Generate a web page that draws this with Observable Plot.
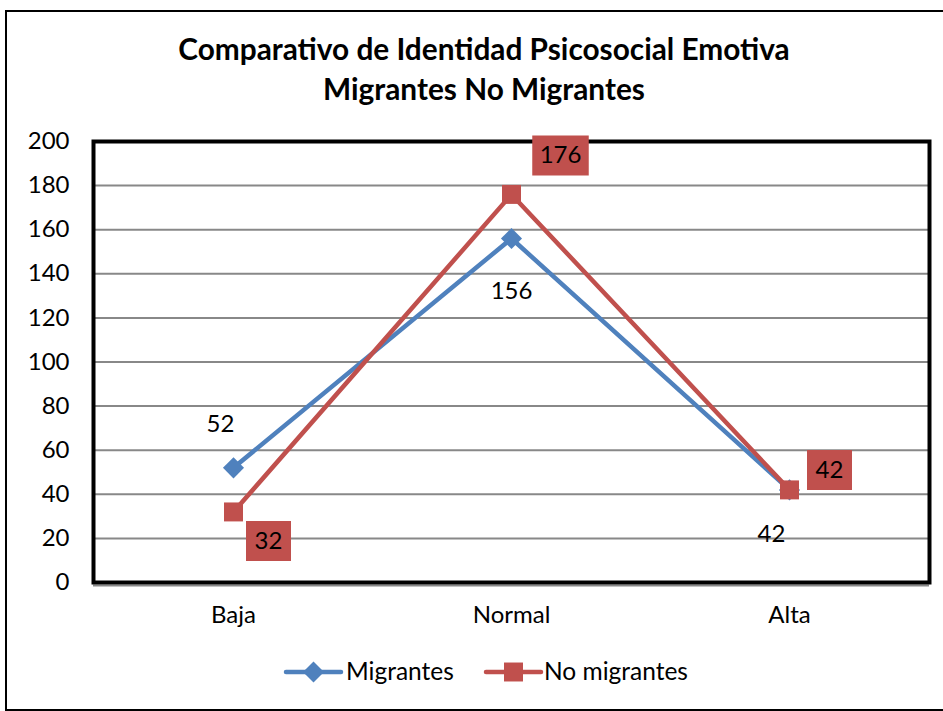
<!DOCTYPE html>
<html>
<head>
<meta charset="utf-8">
<script src="https://cdn.jsdelivr.net/npm/d3@7"></script>
<script src="https://cdn.jsdelivr.net/npm/@observablehq/plot@0.6"></script>
<style>
  html, body { margin: 0; padding: 0; background: #fff; }
  #wrap { position: relative; width: 943px; height: 711px; overflow: hidden; background: #fff; }
  #border { position: absolute; left: 5px; top: 10px; width: 960px; height: 697px; border: 2.5px solid #000; box-sizing: content-box; }
  #chart, #overlay { position: absolute; left: 0; top: 0; }
  #overlay { pointer-events: none; }
</style>
</head>
<body>
<div id="wrap">
  <div id="border"></div>
  <div id="chart"></div>
  <svg id="overlay" width="943" height="711"></svg>
</div>
<script>
// ---- data ----
const categories = ["Baja", "Normal", "Alta"];
const seriesNames = ["Migrantes", "No migrantes"];
const migrantes = [52, 156, 42];
const noMigrantes = [32, 176, 42];
const yTicks = [0, 20, 40, 60, 80, 100, 120, 140, 160, 180, 200];
const titleLines = ["Comparativo de Identidad Psicosocial Emotiva", "Migrantes No Migrantes"];

// ---- layout (pixel offsets of data labels, per category) ----
const migLabelOffsets = [[-13, -44], [0, 53], [-18, 44]];
const noMigLabelOffsets = [[35, 29], [49, -39], [40, -20]];

const blue = "#4F81BD";
const red = "#C0504D";
const font = "Lato";
const fs = 24;

const rowsMig = categories.map((c, i) => ({cat: c, value: migrantes[i], series: seriesNames[0], i}));
const rowsNo = categories.map((c, i) => ({cat: c, value: noMigrantes[i], series: seriesNames[1], i}));

function boxSymbol(label) {
  const w = 22 + 11.5 * String(label).length, h = 40;
  return { draw(ctx) { ctx.rect(-w / 2, -h / 2, w, h); } };
}

const marks = [
  Plot.gridY({ticks: yTicks, stroke: "#888", strokeOpacity: 1, strokeWidth: 2}),
  Plot.ruleY([0], {stroke: "#888", strokeWidth: 2, dy: 3}),
  Plot.frame({stroke: "#000", strokeWidth: 4}),
  Plot.axisY({ticks: yTicks, tickSize: 0, tickPadding: 24, fontSize: fs, fill: "#000"}),
  Plot.axisX({tickSize: 0, tickPadding: 23, fontSize: fs, fill: "#000"}),
  Plot.line(rowsMig, {x: "cat", y: "value", stroke: blue, strokeWidth: 4.5}),
  Plot.dot(rowsMig, {x: "cat", y: "value", symbol: "diamond2", r: 9.5, fill: blue, stroke: "none"}),
  Plot.line(rowsNo, {x: "cat", y: "value", stroke: red, strokeWidth: 4.5}),
  Plot.dot(rowsNo, {x: "cat", y: "value", symbol: "square", r: 10.7, fill: red, stroke: "none"})
];

rowsMig.forEach((d, i) => {
  marks.push(Plot.text([d], {x: "cat", y: "value", text: d => String(d.value), fill: "#000",
    fontSize: fs, dx: migLabelOffsets[i][0], dy: migLabelOffsets[i][1]}));
});
rowsNo.forEach((d, i) => {
  marks.push(Plot.dot([d], {x: "cat", y: "value", symbol: boxSymbol(d.value), r: 10, fill: red, stroke: "none",
    dx: noMigLabelOffsets[i][0], dy: noMigLabelOffsets[i][1]}));
  marks.push(Plot.text([d], {x: "cat", y: "value", text: d => String(d.value), fill: "#000",
    fontSize: fs, dx: noMigLabelOffsets[i][0], dy: noMigLabelOffsets[i][1]}));
});

const plot = Plot.plot({
  width: 943,
  height: 711,
  marginLeft: 93,
  marginRight: 14,
  marginTop: 141,
  marginBottom: 129,
  style: {fontFamily: font, fontSize: fs + "px", color: "#000", background: "transparent"},
  x: {type: "point", domain: categories, padding: 0.5, label: null},
  y: {domain: [0, 200], label: null},
  marks
});
document.getElementById("chart").appendChild(plot);

// ---- title and legend ----
const ov = d3.select("#overlay");
ov.selectAll("text.title").data(titleLines).join("text")
  .attr("class", "title")
  .attr("x", 484).attr("y", (d, i) => 60 + i * 40)
  .attr("text-anchor", "middle")
  .attr("font-family", font).attr("font-weight", "bold").attr("font-size", 29.8)
  .attr("fill", "#000")
  .text(d => d);

const legend = [
  {name: seriesNames[0], color: blue, x0: 286, sym: d3.symbolDiamond2, size: Math.PI * 9.5 * 9.5, tx: 346},
  {name: seriesNames[1], color: red, x0: 486, sym: d3.symbolSquare, size: Math.PI * 10.7 * 10.7, tx: 544}
];
const ly = 672;
const lg = ov.selectAll("g.leg").data(legend).join("g").attr("class", "leg");
lg.append("line").attr("x1", d => d.x0).attr("x2", d => d.x0 + 55).attr("y1", ly).attr("y2", ly)
  .attr("stroke", d => d.color).attr("stroke-width", 4.5).attr("stroke-linecap", "round");
lg.append("path").attr("d", d => d3.symbol(d.sym, d.size)())
  .attr("transform", d => `translate(${d.x0 + 27.5},${ly})`).attr("fill", d => d.color);
lg.append("text").attr("x", d => d.tx).attr("y", 680).attr("font-family", font).attr("font-size", 24.5)
  .attr("fill", "#000").text(d => d.name);
</script>
</body>
</html>
